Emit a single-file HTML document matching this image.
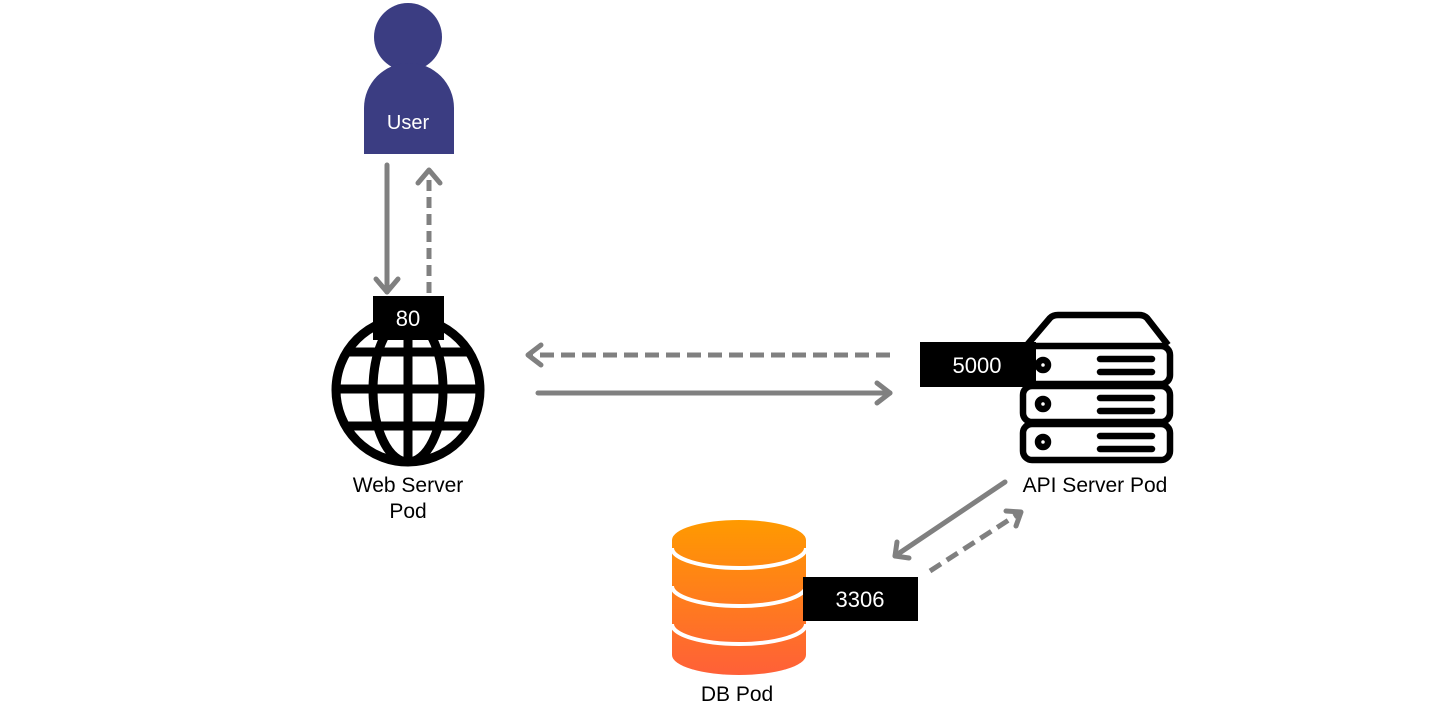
<!DOCTYPE html>
<html><head><meta charset="utf-8"><style>
html,body{margin:0;padding:0;background:#fff;}
svg{display:block;}
text{font-family:"Liberation Sans","Noto Sans CJK KR",sans-serif;}
</style></head><body>
<svg width="1454" height="716" viewBox="0 0 1454 716" xmlns="http://www.w3.org/2000/svg">
<defs>
<linearGradient id="dbg" x1="0" y1="0" x2="0" y2="1">
<stop offset="0" stop-color="#ff9a00"/><stop offset="1" stop-color="#ff6038"/>
</linearGradient>
<clipPath id="gc"><circle cx="408" cy="390" r="72"/></clipPath>
</defs>
<!-- User -->
<circle cx="408" cy="37" r="34" fill="#3b3d82"/>
<path d="M364,154 V108 A44,44 0 0 1 454,108 V154 Z" fill="#3b3d82"/>
<text x="408" y="129" font-size="20" fill="#fff" text-anchor="middle">User</text>
<!-- arrows -->
<g stroke="#808080" stroke-width="5" fill="none" stroke-linecap="round" stroke-linejoin="round">
<line x1="387" y1="165" x2="387" y2="292"/>
<polyline points="376,279 387,292 398,279"/>
<line x1="429" y1="293" x2="429" y2="172" stroke-dasharray="11,6" stroke-linecap="butt"/>
<polyline points="418,183 429,170 440,183"/>
<line x1="890" y1="355" x2="528" y2="355" stroke-dasharray="14,7" stroke-linecap="butt"/>
<polyline points="541,345 528,355 541,365"/>
<line x1="538" y1="393" x2="890" y2="393"/>
<polyline points="877,383 890,393 877,403"/>
<line x1="1005" y1="482" x2="895" y2="556"/>
<polyline points="897,542 895,556 909,558"/>
<line x1="930" y1="571" x2="1018" y2="514" stroke-dasharray="13,7" stroke-linecap="butt"/>
<polyline points="1006,511 1021,512 1016,526"/>
</g>
<!-- Globe -->
<g stroke="#000" stroke-width="9" fill="none">
<circle cx="408" cy="390" r="72"/>
<g clip-path="url(#gc)">
<line x1="330" y1="352" x2="490" y2="352"/>
<line x1="330" y1="389" x2="490" y2="389"/>
<line x1="330" y1="426" x2="490" y2="426"/>
<line x1="408" y1="310" x2="408" y2="470"/>
<ellipse cx="408" cy="390" rx="35" ry="72"/>
</g>
</g>
<rect x="373" y="296" width="71" height="44" fill="#000"/>
<text x="408" y="326" font-size="22" fill="#fff" text-anchor="middle">80</text>
<text x="408" y="492" font-size="21" fill="#000" text-anchor="middle">Web Server</text>
<text x="408" y="518" font-size="21" fill="#000" text-anchor="middle">Pod</text>
<!-- Server -->
<g stroke="#000" stroke-width="6.5" fill="#fff" stroke-linejoin="round">
<path d="M1027,345 L1050,318 Q1053,315 1058,315 H1139 Q1144,315 1147,318 L1168,345"/>
<rect x="1023" y="346" width="147" height="38" rx="9"/>
<rect x="1023" y="386" width="147" height="36" rx="9"/>
<rect x="1023" y="424" width="147" height="36" rx="9"/>
<circle cx="1043" cy="365" r="5"/>
<circle cx="1043" cy="404" r="5"/>
<circle cx="1043" cy="442" r="5"/>
<g stroke-linecap="round" fill="none">
<line x1="1100" y1="359" x2="1152" y2="359"/><line x1="1100" y1="372" x2="1152" y2="372"/>
<line x1="1100" y1="398" x2="1152" y2="398"/><line x1="1100" y1="411" x2="1152" y2="411"/>
<line x1="1100" y1="436" x2="1152" y2="436"/><line x1="1100" y1="449" x2="1152" y2="449"/>
</g>
</g>
<rect x="920" y="342" width="116" height="45" fill="#000"/>
<text x="977" y="373" font-size="22" fill="#fff" text-anchor="middle">5000</text>
<text x="1095" y="492" font-size="21" fill="#000" text-anchor="middle">API Server Pod</text>
<!-- DB -->
<path d="M672,540 A67,20 0 0 1 806,540 V655 A67,20 0 0 1 672,655 Z" fill="url(#dbg)"/>
<g stroke="#fff" stroke-width="4" fill="none">
<path d="M672,548 A67,20 0 0 0 806,548"/>
<path d="M672,586 A67,20 0 0 0 806,586"/>
<path d="M672,624 A67,20 0 0 0 806,624"/>
</g>
<rect x="803" y="577" width="115" height="44" fill="#000"/>
<text x="860" y="607" font-size="22" fill="#fff" text-anchor="middle">3306</text>
<text x="737" y="701" font-size="21" fill="#000" text-anchor="middle">DB Pod</text>
</svg>
</body></html>
